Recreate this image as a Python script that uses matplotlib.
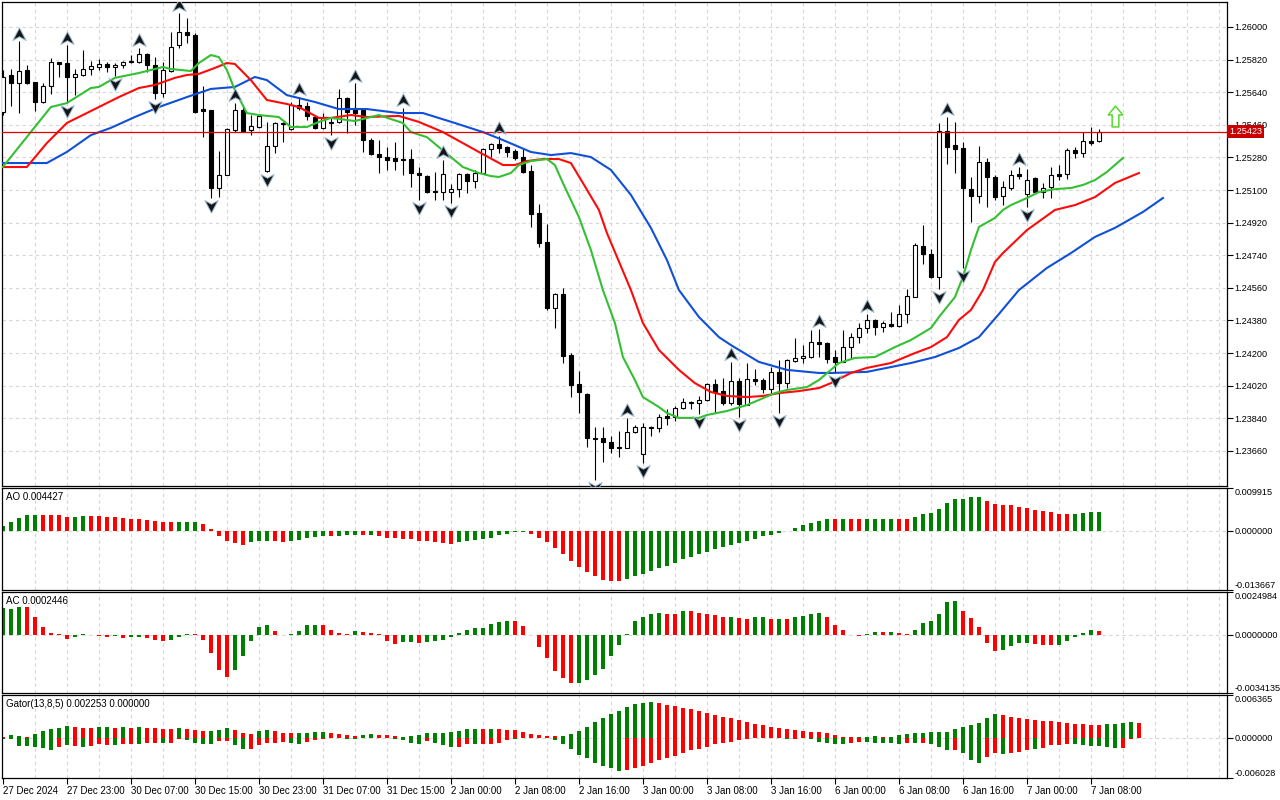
import numpy as np
import matplotlib
matplotlib.use('Agg')
import matplotlib.pyplot as plt
from matplotlib.path import Path
from matplotlib.transforms import blended_transform_factory

plt.rcParams['font.family'] = ['Liberation Sans', 'DejaVu Sans']
plt.rcParams['font.size'] = 7

# ---- candles (H1), bar 0 = 27 Dec 15:00 ----
opens = [1.25531, 1.25735, 1.25690, 1.25763, 1.25696, 1.25586, 1.25674, 1.25807, 1.25801, 1.25724,
         1.25735, 1.25768, 1.25779, 1.25796, 1.25779, 1.25790, 1.25812, 1.25807, 1.25851, 1.25790,
         1.25635, 1.25757, 1.25900, 1.25972, 1.25955, 1.25547, 1.25542, 1.25111, 1.25183, 1.25431,
         1.25542, 1.25431, 1.25448, 1.25205, 1.25343, 1.25470, 1.25437, 1.25569, 1.25564, 1.25503,
         1.25443, 1.25476, 1.25476, 1.25608, 1.25553, 1.25542, 1.25376, 1.25299, 1.25282, 1.25277,
         1.25271, 1.25271, 1.25194, 1.25178, 1.25094, 1.25089, 1.25089, 1.25105, 1.25189, 1.25149,
         1.25194, 1.25326, 1.25354, 1.25337, 1.25315, 1.25282, 1.25205, 1.24973, 1.24813, 1.24449,
         1.24526, 1.24189, 1.24029, 1.23974, 1.23731, 1.23731, 1.23709, 1.23681, 1.23676, 1.23764,
         1.23643, 1.23786, 1.23786, 1.23853, 1.23847, 1.23897, 1.23924, 1.23924, 1.23941, 1.24029,
         1.23990, 1.23924, 1.24045, 1.23913, 1.24057, 1.24051, 1.24001, 1.24096, 1.24034, 1.24156,
         1.24173, 1.24178, 1.24261, 1.24255, 1.24178, 1.24151, 1.24233, 1.24288, 1.24338, 1.24383,
         1.24344, 1.24361, 1.24350, 1.24416, 1.24509, 1.24791, 1.24747, 1.24620, 1.25426, 1.25348,
         1.25332, 1.25105, 1.25067, 1.25255, 1.25172, 1.25067, 1.25111, 1.25189, 1.25078, 1.25167,
         1.25089, 1.25116, 1.25189, 1.25189, 1.25321, 1.25304, 1.25370, 1.25370]
highs = [1.25763, 1.25768, 1.25922, 1.25790, 1.25696, 1.25690, 1.25829, 1.25807, 1.25900, 1.25768,
         1.25873, 1.25812, 1.25823, 1.25807, 1.25801, 1.25812, 1.25845, 1.25884, 1.25856, 1.25834,
         1.25807, 1.25972, 1.26077, 1.26050, 1.25966, 1.25674, 1.25542, 1.25315, 1.25443, 1.25580,
         1.25569, 1.25514, 1.25514, 1.25476, 1.25476, 1.25476, 1.25586, 1.25613, 1.25586, 1.25514,
         1.25525, 1.25503, 1.25657, 1.25613, 1.25690, 1.25553, 1.25387, 1.25376, 1.25337, 1.25365,
         1.25553, 1.25326, 1.25227, 1.25183, 1.25200, 1.25266, 1.25133, 1.25194, 1.25194, 1.25211,
         1.25332, 1.25359, 1.25398, 1.25343, 1.25326, 1.25332, 1.25238, 1.25023, 1.24913, 1.24531,
         1.24559, 1.24200, 1.24101, 1.23979, 1.23792, 1.23792, 1.23742, 1.23769, 1.23842, 1.23803,
         1.23814, 1.23797, 1.23864, 1.23891, 1.23908, 1.23952, 1.23935, 1.23963, 1.24034, 1.24057,
         1.24063, 1.24151, 1.24062, 1.24145, 1.24112, 1.24062, 1.24123, 1.24162, 1.24167, 1.24283,
         1.24244, 1.24327, 1.24333, 1.24261, 1.24217, 1.24327, 1.24310, 1.24366, 1.24416, 1.24388,
         1.24377, 1.24427, 1.24465, 1.24553, 1.24807, 1.24907, 1.24774, 1.25470, 1.25503, 1.25476,
         1.25365, 1.25172, 1.25343, 1.25277, 1.25183, 1.25149, 1.25211, 1.25227, 1.25216, 1.25172,
         1.25138, 1.25227, 1.25238, 1.25332, 1.25337, 1.25420, 1.25448, 1.25437]
lows = [1.25514, 1.25564, 1.25525, 1.25685, 1.25536, 1.25580, 1.25630, 1.25724, 1.25580, 1.25624,
        1.25730, 1.25735, 1.25763, 1.25752, 1.25730, 1.25774, 1.25801, 1.25801, 1.25752, 1.25602,
        1.25613, 1.25752, 1.25884, 1.25911, 1.25525, 1.25392, 1.25056, 1.25061, 1.25183, 1.25420,
        1.25420, 1.25403, 1.25443, 1.25200, 1.25304, 1.25365, 1.25431, 1.25542, 1.25487, 1.25437,
        1.25437, 1.25403, 1.25470, 1.25414, 1.25459, 1.25310, 1.25293, 1.25194, 1.25211, 1.25211,
        1.25183, 1.25116, 1.25045, 1.25083, 1.25045, 1.25045, 1.25028, 1.25061, 1.25083, 1.25111,
        1.25189, 1.25282, 1.25304, 1.25282, 1.25266, 1.25194, 1.24896, 1.24785, 1.24440, 1.24339,
        1.24145, 1.23957, 1.23869, 1.23681, 1.23499, 1.23599, 1.23648, 1.23626, 1.23676, 1.23759,
        1.23593, 1.23742, 1.23764, 1.23803, 1.23825, 1.23891, 1.23891, 1.23864, 1.23935, 1.23869,
        1.23913, 1.23913, 1.23847, 1.23913, 1.24023, 1.23979, 1.23979, 1.23869, 1.24007, 1.24151,
        1.24145, 1.24173, 1.24178, 1.24145, 1.24090, 1.24151, 1.24173, 1.24255, 1.24310, 1.24299,
        1.24316, 1.24344, 1.24344, 1.24366, 1.24509, 1.24692, 1.24615, 1.24553, 1.25244, 1.25194,
        1.24670, 1.24924, 1.25028, 1.25006, 1.25045, 1.25017, 1.25100, 1.25161, 1.25006, 1.25083,
        1.25056, 1.25056, 1.25155, 1.25161, 1.25277, 1.25282, 1.25348, 1.25365]
closes = [1.25724, 1.25690, 1.25757, 1.25690, 1.25586, 1.25674, 1.25807, 1.25796, 1.25724, 1.25741,
          1.25768, 1.25785, 1.25796, 1.25779, 1.25790, 1.25807, 1.25807, 1.25851, 1.25790, 1.25635,
          1.25763, 1.25889, 1.25972, 1.25955, 1.25531, 1.25536, 1.25111, 1.25183, 1.25437, 1.25542,
          1.25426, 1.25454, 1.25509, 1.25343, 1.25470, 1.25465, 1.25569, 1.25553, 1.25509, 1.25443,
          1.25503, 1.25470, 1.25608, 1.25531, 1.25525, 1.25376, 1.25299, 1.25282, 1.25266, 1.25260,
          1.25266, 1.25194, 1.25183, 1.25089, 1.25089, 1.25189, 1.25105, 1.25189, 1.25149, 1.25194,
          1.25326, 1.25354, 1.25332, 1.25310, 1.25277, 1.25200, 1.24968, 1.24807, 1.24449, 1.24526,
          1.24184, 1.24023, 1.23985, 1.23731, 1.23726, 1.23709, 1.23676, 1.23676, 1.23764, 1.23792,
          1.23792, 1.23792, 1.23847, 1.23842, 1.23897, 1.23930, 1.23930, 1.23941, 1.24029, 1.23985,
          1.23924, 1.24045, 1.23919, 1.24057, 1.24045, 1.24001, 1.24096, 1.24034, 1.24162, 1.24173,
          1.24184, 1.24261, 1.24250, 1.24167, 1.24151, 1.24233, 1.24288, 1.24338, 1.24383, 1.24344,
          1.24366, 1.24350, 1.24416, 1.24515, 1.24796, 1.24747, 1.24620, 1.25426, 1.25337, 1.25326,
          1.25111, 1.25067, 1.25255, 1.25172, 1.25061, 1.25116, 1.25183, 1.25178, 1.25155, 1.25089,
          1.25111, 1.25183, 1.25178, 1.25321, 1.25304, 1.25370, 1.25359, 1.25423]

# ---- alligator lines (bar position, price), already shifted forward ----
jaw_x = [0, 5.5, 8, 11, 13.5, 16.5, 19.5, 23, 26, 29, 31.5, 33, 35.5, 39, 42, 45.5, 49.5, 52.5, 56.5, 60,
         62.5, 66, 68.5, 71, 73.5, 76, 78.5, 81, 83, 84.5, 87, 89.5, 91, 94.5, 98, 102, 103.5, 108, 113.5, 116.5,
         119.5, 122, 124.5, 127, 130.5, 133.5, 136.5, 139, 142.5, 145]
jaw_y = [1.25249, 1.25249, 1.25310, 1.25403, 1.25443, 1.25503, 1.25558, 1.25613, 1.25658, 1.25669,
         1.25724, 1.25707, 1.25624, 1.25586, 1.25547, 1.25547, 1.25525, 1.25525, 1.25470, 1.25420,
         1.25376, 1.25310, 1.25293, 1.25304, 1.25282, 1.25211, 1.25073, 1.24891, 1.24714, 1.24548,
         1.24399, 1.24288, 1.24244, 1.24151, 1.24107, 1.24090, 1.24090, 1.24096, 1.24145, 1.24178,
         1.24228, 1.24288, 1.24416, 1.24548, 1.24670, 1.24752, 1.24841, 1.24891, 1.24979, 1.25056]
teeth_x = [0, 3, 5.5, 8, 10.5, 12, 14.5, 17, 19, 21.5, 23, 24.5, 26.5, 28, 29, 31, 33, 35.5, 37, 39.5,
           41, 43.5, 45.5, 49.5, 52, 55, 57.5, 59.5, 62.5, 64, 65.5, 67.5, 69.5, 71, 72.5, 74.5, 75.5, 78.5, 80, 82,
           84.5, 86.5, 88.5, 90.5, 93, 95, 97, 99.5, 102, 103.5, 106, 108, 111, 114, 116, 118, 119.5, 121, 122.5, 124,
           125, 128, 131.5, 134, 136.5, 139, 142]
teeth_y = [1.25227, 1.25227, 1.25359, 1.25470, 1.25525, 1.25558, 1.25613, 1.25663, 1.25680, 1.25719,
           1.25735, 1.25741, 1.25774, 1.25801, 1.25796, 1.25707, 1.25597, 1.25575, 1.25558, 1.25498,
           1.25498, 1.25514, 1.25503, 1.25509, 1.25476, 1.25420, 1.25359, 1.25310, 1.25238, 1.25238,
           1.25260, 1.25271, 1.25271, 1.25249, 1.25139, 1.24990, 1.24863, 1.24548, 1.24366, 1.24217,
           1.24107, 1.24034, 1.23985, 1.23963, 1.23957, 1.23963, 1.23979, 1.23990, 1.24007, 1.24034,
           1.24090, 1.24118, 1.24145, 1.24200, 1.24233, 1.24288, 1.24383, 1.24438, 1.24548, 1.24703,
           1.24752, 1.24879, 1.24990, 1.25017, 1.25061, 1.25139, 1.25194]
lips_x = [0, 6, 8, 11, 12, 14, 17, 20, 21, 23.5, 24.5, 26, 27, 28, 29, 30.5, 32, 34.5, 36, 38,
          39.5, 41, 44, 47, 50, 51, 53, 54.5, 56, 57.5, 59.5, 61, 62, 63.5, 64.5, 66, 68, 69, 70, 72,
          73.5, 75, 76.5, 77.5, 79, 80, 82, 83, 84.5, 87, 88, 90.5, 93, 94.5, 96.5, 98, 100.5, 102, 104.5, 106.5,
          109, 111.5, 113.5, 116, 117, 119, 120, 121, 122, 124, 125, 126, 128, 129.5, 131.5, 133.5, 135, 136.5,
          138, 140]
lips_y = [1.25227, 1.25558, 1.25580, 1.25663, 1.25669, 1.25719, 1.25746, 1.25779, 1.25768, 1.25757,
          1.25801, 1.25845, 1.25834, 1.25763, 1.25652, 1.25525, 1.25514, 1.25503, 1.25448, 1.25448,
          1.25476, 1.25498, 1.25481, 1.25514, 1.25470, 1.25420, 1.25392, 1.25337, 1.25282, 1.25227,
          1.25194, 1.25177, 1.25172, 1.25194, 1.25238, 1.25260, 1.25271, 1.25238, 1.25139, 1.24951,
          1.24769, 1.24548, 1.24366, 1.24178, 1.24051, 1.23957, 1.23902, 1.23869, 1.23842, 1.23842,
          1.23858, 1.23880, 1.23913, 1.23941, 1.23979, 1.23996, 1.24012, 1.24051, 1.24145, 1.24173,
          1.24178, 1.24233, 1.24272, 1.24338, 1.24399, 1.24509, 1.24620, 1.24769, 1.24896, 1.24946,
          1.24990, 1.25017, 1.25056, 1.25089, 1.25105, 1.25111, 1.25128, 1.25155, 1.25200, 1.25277]

fractal_up = [2, 8, 17, 22, 29, 37, 44, 50, 55, 62, 78, 91, 102, 108, 118, 127]
fractal_dn = [8, 14, 19, 26, 33, 41, 52, 56, 74, 80, 87, 92, 97, 104, 117, 120, 128]
signal_bar, signal_price = 139, 1.25509

# ---- oscillators, values in 1e-4 ----
ao_e4 = [11.5, 20.6, 30.5, 36.6, 37.3, 37.0, 36.8, 36.5, 32.7, 33.0,
         33.7, 33.5, 33.3, 32.7, 32.1, 30.5, 28.2, 27.5, 25.2, 22.9,
         20.6, 20.3, 20.5, 20.7, 20.9, 16.7, 3.9, -11.5, -22.9, -29.1,
         -32.1, -26.8, -22.9, -22.7, -23.0, -25.2, -22.9, -20.6, -15.3, -13.7,
         -11.5, -11.8, -11.4, -9.8, -9.2, -9.4, -9.1, -11.5, -15.3, -17.6,
         -17.8, -19.9, -22.9, -23.6, -26.8, -29.1, -29.3, -26.8, -23.6, -21.3,
         -19.9, -15.3, -9.8, -6.2, -3.0, -2.8, -6.2, -15.3, -25.2, -40.5,
         -54.3, -69.4, -84.0, -95.5, -103.7, -112.9, -115.2, -115.5, -110.6, -103.7,
         -99.2, -92.3, -86.3, -80.8, -74.9, -65.7, -61.1, -53.4, -49.7, -42.8,
         -38.2, -32.7, -27.5, -23.6, -19.0, -12.1, -9.8, -4.6, -0.7, 6.2,
         13.1, 17.6, 23.6, 28.2, 26.8, 28.2, 26.9, 26.7, 26.9, 28.2,
         28.4, 28.5, 28.3, 28.1, 32.7, 39.6, 41.9, 51.1, 64.8, 74.0,
         74.3, 78.5, 78.7, 69.4, 62.5, 60.2, 60.0, 55.6, 53.4, 48.8,
         46.5, 44.2, 39.6, 39.4, 39.7, 41.9, 44.0, 44.27]
ao_col = ("gggggrrrrg grrrrrrrrr rrgggrrrrr rgggrrgggg grgggrgrrr rrrrrrrggg ggggggrrrr "
          "rrrrrrrrgg gggggggggg gggggggggg ggggrgrrgg ggrrgggggg gggrrrrrrr rrrrgggg")
ac_e4 = [15.9, 15.0, 16.3, 16.2, 10.1, 4.3, 1.2, 0.2, -2.3, -1.6,
         0.4, -0.4, -0.8, -1.3, -0.8, -2.2, -1.6, -1.5, -2.2, -3.3,
         -3.9, -3.3, -1.3, 0.6, 0.5, -3.3, -10.9, -20.8, -24.9, -20.4,
         -12.7, -3.9, 4.3, 5.4, 2.3, -0.3, 0.6, 2.3, 5.4, 5.8,
         5.4, 2.9, 1.2, 0.6, 2.3, 1.6, 1.2, 0.4, -3.5, -5.7,
         -4.1, -4.0, -4.7, -4.1, -3.7, -3.3, -1.3, 1.2, 2.9, 4.1,
         4.2, 6.0, 7.6, 8.2, 8.1, 5.2, -0.4, -7.0, -13.8, -21.4,
         -25.5, -28.4, -28.3, -26.6, -23.7, -19.8, -12.7, -6.2, 0.6, 8.2,
         10.5, 12.2, 12.8, 12.2, 12.1, 14.0, 13.9, 12.8, 12.2, 11.7,
         10.5, 10.6, 9.9, 9.3, 10.5, 10.6, 9.3, 9.4, 9.3, 10.5,
         11.1, 12.2, 12.8, 10.5, 5.8, 2.9, -0.3, -1.0, 0.4, 1.7,
         1.6, 1.7, 1.2, 0.6, 2.9, 7.0, 8.2, 12.2, 19.2, 19.8,
         14.0, 9.9, 4.7, -4.7, -9.7, -9.2, -6.8, -5.1, -5.0, -5.7,
         -5.8, -6.2, -6.1, -3.9, -1.6, 1.2, 2.9, 2.446]
ac_col = ("gggrrrrrrg grrrgrggrr rgggrrrrrg ggggrrgggg rrrrgrrrrr ggrggggggg ggggrrrrrr "
          "rrgggggggg gggrrgrrrr rgrrggrgrg gggrrrrrgg rgrrgggggg rrrrrggggr rrgggggr")
gator_up_e4 = [1.5, 3.4, 2.5, 1.0, 4.9, 10.0, 12.4, 14.9, 17.5, 16.0,
               14.9, 14.8, 16.0, 16.1, 14.9, 16.0, 14.9, 16.0, 14.9, 14.8,
               13.4, 13.3, 14.5, 12.4, 10.9, 10.0, 10.1, 11.5, 14.5, 10.9,
               6.4, 4.9, 10.0, 11.5, 10.0, 6.4, 6.3, 6.5, 7.5, 8.5,
               8.6, 6.4, 4.9, 3.4, 2.5, 3.4, 4.9, 3.4, 3.3, 2.2,
               1.5, 3.0, 4.5, 7.0, 7.5, 7.6, 9.0, 10.5, 13.4, 13.5,
               13.4, 13.5, 13.3, 11.9, 11.8, 9.0, 6.0, 4.0, 3.0, 2.9,
               3.1, 6.0, 10.5, 16.4, 23.9, 29.9, 35.8, 40.3, 46.3, 50.8,
               52.3, 53.7, 52.3, 49.3, 47.8, 44.8, 43.3, 40.3, 37.3, 34.3,
               31.4, 29.9, 26.9, 23.9, 20.9, 19.4, 16.4, 14.9, 13.4, 11.9,
               10.5, 9.0, 8.9, 7.5, 4.5, 1.5, 0.7, 1.5, 1.6, 1.7,
               0.8, 1.5, 4.5, 6.0, 7.5, 7.6, 7.7, 7.8, 9.0, 13.0,
               16.4, 19.4, 22.4, 29.9, 35.8, 34.3, 31.4, 29.9, 28.4, 26.9,
               25.4, 25.2, 23.9, 22.4, 20.9, 19.9, 19.0, 18.9, 19.9, 20.0,
               21.4, 22.6, 22.53]
gator_up_col = ("rggrgggggr rrggrgrgrr rrgrrrgggr rrggrrrggg grrrrggrrr gggggggggg rgrrrrrrrr "
                "gggggggggg ggrrrrrrrr rrrrrrrrrr rrrrrrrggg rggggggggg gggggrrrrr rrrrrrrrgg ggr")
gator_dn_e4 = [1.5, 1.5, 12.4, 12.5, 13.9, 14.9, 18.4, 13.9, 10.9, 12.4,
               13.9, 12.4, 10.0, 10.9, 11.0, 10.0, 9.0, 10.0, 7.5, 7.4,
               8.5, 7.5, 2.5, 3.0, 8.5, 9.0, 10.0, 4.9, 4.8, 11.5,
               16.4, 17.5, 10.9, 7.5, 8.5, 6.4, 7.5, 10.0, 6.0, 3.4,
               1.5, 1.0, 1.1, 1.5, 1.6, 1.0, 0.5, 0.4, 0.3, 2.2,
               4.0, 7.5, 9.0, 4.9, 7.5, 11.5, 13.4, 13.3, 10.0, 10.1,
               9.9, 9.0, 7.5, 4.0, 1.9, 1.0, 0.5, 0.4, 0.3, 4.0,
               10.0, 17.5, 26.4, 30.9, 37.3, 42.3, 45.8, 50.3, 48.8, 45.8,
               42.8, 37.8, 33.9, 30.9, 27.9, 23.4, 19.0, 17.5, 13.4, 10.0,
               8.5, 6.0, 4.0, 2.2, 1.0, 1.1, 1.2, 1.3, 2.5, 1.5,
               1.0, 2.5, 6.0, 7.5, 9.0, 10.0, 8.5, 6.0, 6.4, 7.5,
               7.6, 8.5, 10.0, 8.5, 8.6, 8.5, 10.0, 13.9, 19.0, 18.9,
               23.4, 33.9, 38.4, 28.8, 23.4, 24.9, 23.4, 21.4, 18.4, 17.5,
               14.9, 11.5, 11.4, 9.0, 10.0, 10.9, 11.9, 12.0, 13.4, 14.9,
               14.8, 1.9, 0.0]
gator_dn_col = ("gggggggrgr grrrgrrgrr grrggggrrg grrrrrggrr rgggggrrrg gggrgggrrg rrrrggrrrg "
                "ggggggggrr rrrrrrrrrr rrrrgggggr rgggggrrgg gggrgrgggr gggrrgrrrg rrrrgggggg rrr")

date_bars = [0, 8, 16, 24, 32, 40, 48, 56, 64, 72, 80, 88, 96, 104, 112, 120, 128, 136]
date_labels = ['27 Dec 2024', '27 Dec 23:00', '30 Dec 07:00', '30 Dec 15:00', '30 Dec 23:00',
               '31 Dec 07:00', '31 Dec 15:00', '2 Jan 00:00', '2 Jan 08:00', '2 Jan 16:00',
               '3 Jan 00:00', '3 Jan 08:00', '3 Jan 16:00', '6 Jan 00:00', '6 Jan 08:00',
               '6 Jan 16:00', '7 Jan 00:00', '7 Jan 08:00']
price_ticks = [1.23660, 1.23840, 1.24020, 1.24200, 1.24380, 1.24560, 1.24740,
               1.24920, 1.25100, 1.25280, 1.25460, 1.25640, 1.25820, 1.26000]

GREEN, RED = '#008000', '#ff0000'
GRID = '#d6d6d6'
W, H = 1280, 800
LAB = 6.6

fig = plt.figure(figsize=(12.8, 8), dpi=100)


def add_panel(y0, y1):
    ax = fig.add_axes([2 / W, 1 - y1 / H, 1225 / W, (y1 - y0) / H])
    for s in ax.spines.values():
        s.set_linewidth(0.9)
    ax.set_xlim(-0.1, 153.0)
    ax.tick_params(axis='x', bottom=False, labelbottom=False)
    ax.yaxis.tick_right()
    ax.tick_params(axis='y', direction='out', length=4, width=0.8, labelsize=LAB, pad=1.5)
    for b in range(4, 153, 4):
        ax.axvline(b, color=GRID, lw=0.8, ls=(0, (3, 3)), zorder=0)
    return ax


def osc_panel(ax, lo, hi, labels):
    ax.set_ylim(lo, hi)
    ax.set_yticks([lo, 0, hi])
    ax.set_yticklabels(labels)
    ticks = ax.yaxis.get_major_ticks()
    ticks[0].label2.set_va('bottom')
    ticks[2].label2.set_va('top')
    ax.axhline(0, color=GRID, lw=0.8, ls=(0, (3, 3)), zorder=0)


def colours(s):
    return [GREEN if c == 'g' else RED for c in s.replace(' ', '')]


# ---------- main price panel ----------
ax = add_panel(2, 486)
ax.set_ylim(1.23466, 1.26138)
ax.set_yticks(price_ticks)
ax.set_yticklabels([f'{p:.5f}' for p in price_ticks])
for p in price_ticks:
    ax.axhline(p, color=GRID, lw=0.8, ls=(0, (3, 3)), zorder=0)

o, h, l, c = map(np.array, (opens, highs, lows, closes))
x = np.arange(len(o))
bull = c >= o
ax.vlines(x, l, h, color='black', lw=0.8, zorder=2)
ax.bar(x, np.maximum(np.abs(c - o), 0.00002), bottom=np.minimum(o, c), width=0.5,
       color=np.where(bull, 'white', 'black'), edgecolor='black', linewidth=0.8, zorder=3)

ax.plot(jaw_x, jaw_y, color='#1050d8', lw=1.5, zorder=4)
ax.plot(teeth_x, teeth_y, color='#ff0a0a', lw=1.5, zorder=4)
ax.plot(lips_x, lips_y, color='#33c033', lw=1.5, zorder=4)

# Bill Williams fractal arrows
up_mark = Path([(0, 1), (1, -0.9), (0, -0.35), (-1, -0.9), (0, 1)],
               [Path.MOVETO, Path.LINETO, Path.LINETO, Path.LINETO, Path.CLOSEPOLY])
dn_mark = Path([(0, -1), (1, 0.9), (0, 0.35), (-1, 0.9), (0, -1)],
               [Path.MOVETO, Path.LINETO, Path.LINETO, Path.LINETO, Path.CLOSEPOLY])
off = 0.00042
ax.plot(fractal_up, h[fractal_up] + off, ls='none', marker=up_mark, ms=9.5,
        mfc='#151515', mec='#9ab8cf', mew=0.7, zorder=5)
ax.plot(fractal_dn, l[fractal_dn] - off, ls='none', marker=dn_mark, ms=9.5,
        mfc='#151515', mec='#9ab8cf', mew=0.7, zorder=5)

block_arrow = Path([(0, 1), (0.7, 0.15), (0.32, 0.15), (0.32, -1), (-0.32, -1), (-0.32, 0.15),
                    (-0.7, 0.15), (0, 1)],
                   [Path.MOVETO] + [Path.LINETO] * 6 + [Path.CLOSEPOLY])
ax.plot([signal_bar], [signal_price], ls='none', marker=block_arrow, ms=15,
        mfc='white', mec='#58d830', mew=1.1, zorder=6)

ax.axhline(c[-1], color='#e00000', lw=0.9, zorder=4)
trans = blended_transform_factory(ax.transAxes, ax.transData)
ax.text(1.0018, c[-1], f'{c[-1]:.5f}', transform=trans, ha='left', va='center', color='white',
        fontsize=LAB, bbox=dict(boxstyle='square,pad=0.2', fc='#c80000', ec='none'),
        zorder=10, clip_on=False)

# ---------- AO ----------
ao = np.array(ao_e4) * 1e-4
ax_ao = add_panel(488, 590)
ax_ao.bar(np.arange(len(ao)), ao, width=0.5, color=colours(ao_col), linewidth=0, zorder=2)
osc_panel(ax_ao, -0.013667, 0.009915, ['-0.013667', '0.000000', '0.009915'])
ax_ao.text(0.0033, 0.965, f'AO {ao[-1]:.6f}', transform=ax_ao.transAxes, va='top', ha='left')

# ---------- AC ----------
ac = np.array(ac_e4) * 1e-4
ax_ac = add_panel(592, 693)
ax_ac.bar(np.arange(len(ac)), ac, width=0.5, color=colours(ac_col), linewidth=0, zorder=2)
osc_panel(ax_ac, -0.0034135, 0.0024984, ['-0.0034135', '0.0000000', '0.0024984'])
ax_ac.text(0.0033, 0.965, f'AC {ac[-1]:.7f}', transform=ax_ac.transAxes, va='top', ha='left')

# ---------- Gator ----------
g_up = np.array(gator_up_e4) * 1e-4
g_dn = np.array(gator_dn_e4) * 1e-4
ax_g = add_panel(695, 778)
xg = np.arange(len(g_up))
ax_g.bar(xg, g_up, width=0.5, color=colours(gator_up_col), linewidth=0, zorder=2)
ax_g.bar(xg, -g_dn, width=0.5, color=colours(gator_dn_col), linewidth=0, zorder=2)
osc_panel(ax_g, -0.006028, 0.006365, ['-0.006028', '0.000000', '0.006365'])
ax_g.text(0.0033, 0.955, f'Gator(13,8,5) {g_up[-1]:.6f} {g_dn[-1]:.6f}',
          transform=ax_g.transAxes, va='top', ha='left')

ax_g.set_xticks(date_bars)
ax_g.set_xticklabels(date_labels)
ax_g.tick_params(axis='x', bottom=True, labelbottom=True, direction='out', length=4,
                 width=0.8, labelsize=7, pad=1.5)
for lab in ax_g.get_xticklabels():
    lab.set_ha('left')

fig.savefig('out.png', dpi=100, facecolor='white')
